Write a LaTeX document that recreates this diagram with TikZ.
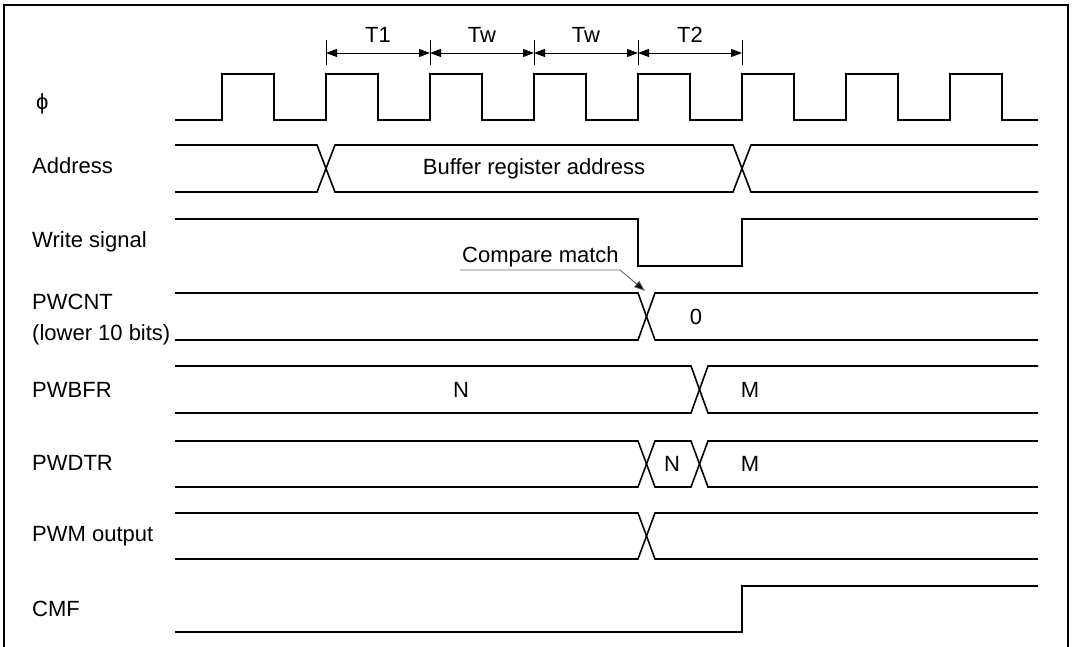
\documentclass[tikz,border=0pt]{standalone}
\usepackage{fontspec}
\setmainfont{Liberation Sans}
\usetikzlibrary{arrows.meta}
\begin{document}
\begin{tikzpicture}[x=1pt,y=-1pt,
  sig/.style={line width=1.6pt, line join=miter},
  frame/.style={line width=2.2pt},
  lbl/.style={anchor=base west, inner sep=0pt, font=\fontsize{22}{26}\selectfont},
  val/.style={anchor=base, inner sep=0pt, font=\fontsize{22}{26}\selectfont},
  tick/.style={line width=0.9pt},
  dim/.style={line width=0.9pt, {Triangle[length=11pt,width=8pt]}-{Triangle[length=11pt,width=8pt]}},
  leader/.style={line width=0.9pt, draw=black!60, -{Triangle[length=11pt,width=8pt,fill=black]}}]
\useasboundingbox (0,0) rectangle (1074,647);
% frame
\draw[frame] (4,650) -- (4,5) -- (1068,5) -- (1068,650);
% labels
\node[lbl] (lphi) at (36,110) {ϕ};
\node[lbl] (laddr) at (32,174) {Address};
\node[lbl] (lwr) at (32,248) {Write signal};
\node[lbl] (lcnt) at (32,309) {PWCNT};
\node[lbl] (lcnt2) at (32,340) {(lower 10 bits)};
\node[lbl] (lbfr) at (32,397) {PWBFR};
\node[lbl] (ldtr) at (32,470) {PWDTR};
\node[lbl] (lpwm) at (32,541) {PWM output};
\node[lbl] (lcmf) at (32,616) {CMF};
% clock
\draw[sig] (175,120) foreach \i in {0,...,7} { -- ({222+104*\i},120) -- ({222+104*\i},74) -- ({274+104*\i},74) -- ({274+104*\i},120) } -- (1038,120);
% period dimensions
\foreach \x in {326,430,534,638,742} \draw[tick] (\x,40) -- (\x,65);
\coordinate (d0) at (326,53);
\coordinate (d1) at (430,53);
\coordinate (d2) at (534,53);
\coordinate (d3) at (638,53);
\coordinate (d4) at (742,53);
\draw[dim] (d0) -- (d1);
\draw[dim] (d1) -- (d2);
\draw[dim] (d2) -- (d3);
\draw[dim] (d3) -- (d4);
\node[val] (t1) at (378,43) {T1};
\node[val] (tw1) at (482,43) {Tw};
\node[val] (tw2) at (586,43) {Tw};
\node[val] (t2) at (690,43) {T2};
% address
\draw[sig] (175,145) -- (317,145) -- (335,192) -- (733,192) -- (751,145) -- (1038,145);
\draw[sig] (175,192) -- (317,192) -- (335,145) -- (733,145) -- (751,192) -- (1038,192);
\node[val] (vaddr) at (534,175) {Buffer register address};
% write signal
\draw[sig] (175,219) -- (638,219) -- (638,266) -- (742,266) -- (742,219) -- (1038,219);
% PWCNT
\draw[sig] (175,293) -- (638,293) -- (655,340) -- (1038,340);
\draw[sig] (175,340) -- (638,340) -- (655,293) -- (1038,293);
\node[val] (vcnt) at (696,324) {0};
% compare match
\node[lbl] (cm) at (462,262) {Compare match};
\coordinate (cmu) at (460,270);
\coordinate (cmk) at (620,270);
\coordinate (cmt) at (645,291);
\draw[leader] (cmu) -- (cmk) -- (cmt);
% PWBFR
\draw[sig] (175,366) -- (691,366) -- (708,413) -- (1038,413);
\draw[sig] (175,413) -- (691,413) -- (708,366) -- (1038,366);
\node[val] (vbfrn) at (461,397) {N};
\node[val] (vbfrm) at (750,397) {M};
% PWDTR
\draw[sig] (175,441) -- (638,441) -- (655,487) -- (691,487) -- (708,441) -- (1038,441);
\draw[sig] (175,487) -- (638,487) -- (655,441) -- (691,441) -- (708,487) -- (1038,487);
\node[val] (vdtrn) at (672,471) {N};
\node[val] (vdtrm) at (750,471) {M};
% PWM output
\draw[sig] (175,513) -- (638,513) -- (655,559) -- (1038,559);
\draw[sig] (175,559) -- (638,559) -- (655,513) -- (1038,513);
% CMF
\draw[sig] (175,632) -- (742,632) -- (742,586) -- (1038,586);
\end{tikzpicture}
\end{document}
